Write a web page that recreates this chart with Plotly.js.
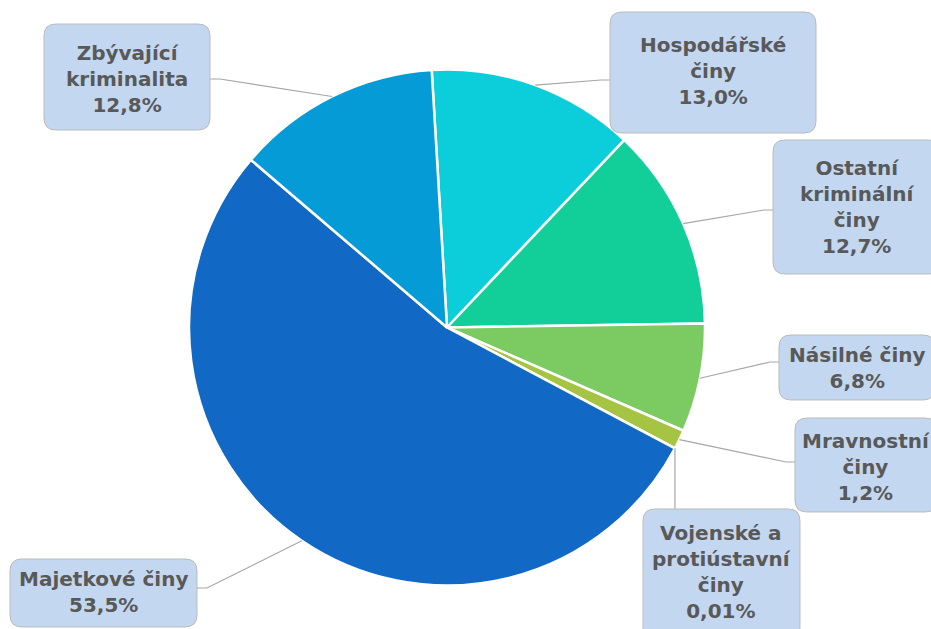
<!DOCTYPE html>
<html>
<head>
<meta charset="utf-8">
<script src="https://cdn.plot.ly/plotly-3.0.1.min.js"></script>
<style>html,body{margin:0;padding:0;background:#fff;}#chart{width:931px;height:629px;}</style>
</head>
<body>
<div id="chart"></div>
<script>
// ---- data ----
const categories = ["Hospodářské činy", "Ostatní kriminální činy", "Násilné činy", "Mravnostní činy", "Vojenské a protiústavní činy", "Majetkové činy", "Zbývající kriminalita"];
const values = [13.0, 12.7, 6.8, 1.2, 0.01, 53.5, 12.8];
const valueLabels = ["13,0%", "12,7%", "6,8%", "1,2%", "0,01%", "53,5%", "12,8%"];
const labelLines = [
  ["Hospodářské", "činy"],
  ["Ostatní", "kriminální", "činy"],
  ["Násilné činy"],
  ["Mravnostní", "činy"],
  ["Vojenské a", "protiústavní", "činy"],
  ["Majetkové činy"],
  ["Zbývající", "kriminalita"]
];
const colors = ["#0CCEDA", "#12CF9A", "#7CCB62", "#A5C443", "#8FBF3A", "#1169C5", "#059BD7"];

// ---- layout constants (pixels) ----
const W = 931, H = 629;
const CX = 447, CY = 327.5, R = 258;
const ROT = -3.4;
const boxes = [
  {b: [610, 12, 816, 133], ty: 71, side: "left", ay: 80},
  {b: [773, 140, 941, 274], ty: 207, side: "left", ay: 210},
  {b: [779, 335, 935, 400], ty: 368, side: "left", ay: 362},
  {b: [795, 418, 937, 512], ty: 467, side: "left", ay: 462},
  {b: [643, 509, 800, 640], ty: 572, side: "top", ay: 509},
  {b: [10, 559, 197, 627], ty: 592, side: "right", ay: 588},
  {b: [44, 24, 210, 130], ty: 79, side: "right", ay: 79}
];

const px = x => x / W;
const py = y => 1 - y / H;

function roundRect(x0, y0, x1, y1, r) {
  const X = v => px(v).toFixed(5), Y = v => py(v).toFixed(5);
  return `M${X(x0 + r)},${Y(y0)} L${X(x1 - r)},${Y(y0)} Q${X(x1)},${Y(y0)} ${X(x1)},${Y(y0 + r)} ` +
    `L${X(x1)},${Y(y1 - r)} Q${X(x1)},${Y(y1)} ${X(x1 - r)},${Y(y1)} L${X(x0 + r)},${Y(y1)} ` +
    `Q${X(x0)},${Y(y1)} ${X(x0)},${Y(y1 - r)} L${X(x0)},${Y(y0 + r)} Q${X(x0)},${Y(y0)} ${X(x0 + r)},${Y(y0)} Z`;
}

const total = values.reduce((a, b) => a + b, 0);
const shapes = [], annotations = [];
let cum = 0;
values.forEach((v, i) => {
  const mid = (ROT + (cum + v / 2) / total * 360) * Math.PI / 180;
  cum += v;
  const ex = CX + R * Math.sin(mid), ey = CY - R * Math.cos(mid);
  const bx = boxes[i];
  const [x0, y0, x1, y1] = bx.b;
  let pts;
  if (bx.side === "left") pts = [[ex, ey], [x0 - 9, bx.ay], [x0, bx.ay]];
  else if (bx.side === "right") pts = [[ex, ey], [x1 + 10, bx.ay], [x1, bx.ay]];
  else pts = [[ex, ey], [ex, y0]];
  const path = pts.map((p, k) => (k ? "L" : "M") + px(p[0]).toFixed(5) + "," + py(p[1]).toFixed(5)).join(" ");
  shapes.push({type: "path", xref: "paper", yref: "paper", path: path,
    line: {color: "#A6A6A6", width: 1.2}, layer: "above"});
  shapes.push({type: "path", xref: "paper", yref: "paper", path: roundRect(x0, y0, x1, y1, 12),
    fillcolor: "#C3D8F0", line: {color: "#BBBBBB", width: 1}, layer: "above"});
  const tcx = (x0 + x1) / 2;
  annotations.push({
    xref: "paper", yref: "paper", x: px(tcx), y: py(bx.ty), xanchor: "center", yanchor: "middle",
    showarrow: false, align: "center",
    text: labelLines[i].concat([valueLabels[i]]).join("<br>"),
    font: {family: "DejaVu Sans, Arial, sans-serif", size: 20, color: "#595959", weight: "bold"}
  });
});

const data = [{
  type: "pie",
  labels: categories,
  values: values,
  sort: false,
  direction: "clockwise",
  rotation: ROT,
  marker: {colors: colors, line: {color: "#FFFFFF", width: 2.5}},
  textinfo: "none",
  hoverinfo: "label+percent",
  showlegend: false,
  domain: {x: [px(CX - R), px(CX + R)], y: [py(CY + R), py(CY - R)]}
}];

const layout = {
  width: W, height: H,
  margin: {l: 0, r: 0, t: 0, b: 0},
  paper_bgcolor: "#FFFFFF",
  showlegend: false,
  shapes: shapes,
  annotations: annotations
};

Plotly.newPlot("chart", data, layout, {displayModeBar: false, staticPlot: true});
</script>
</body>
</html>
